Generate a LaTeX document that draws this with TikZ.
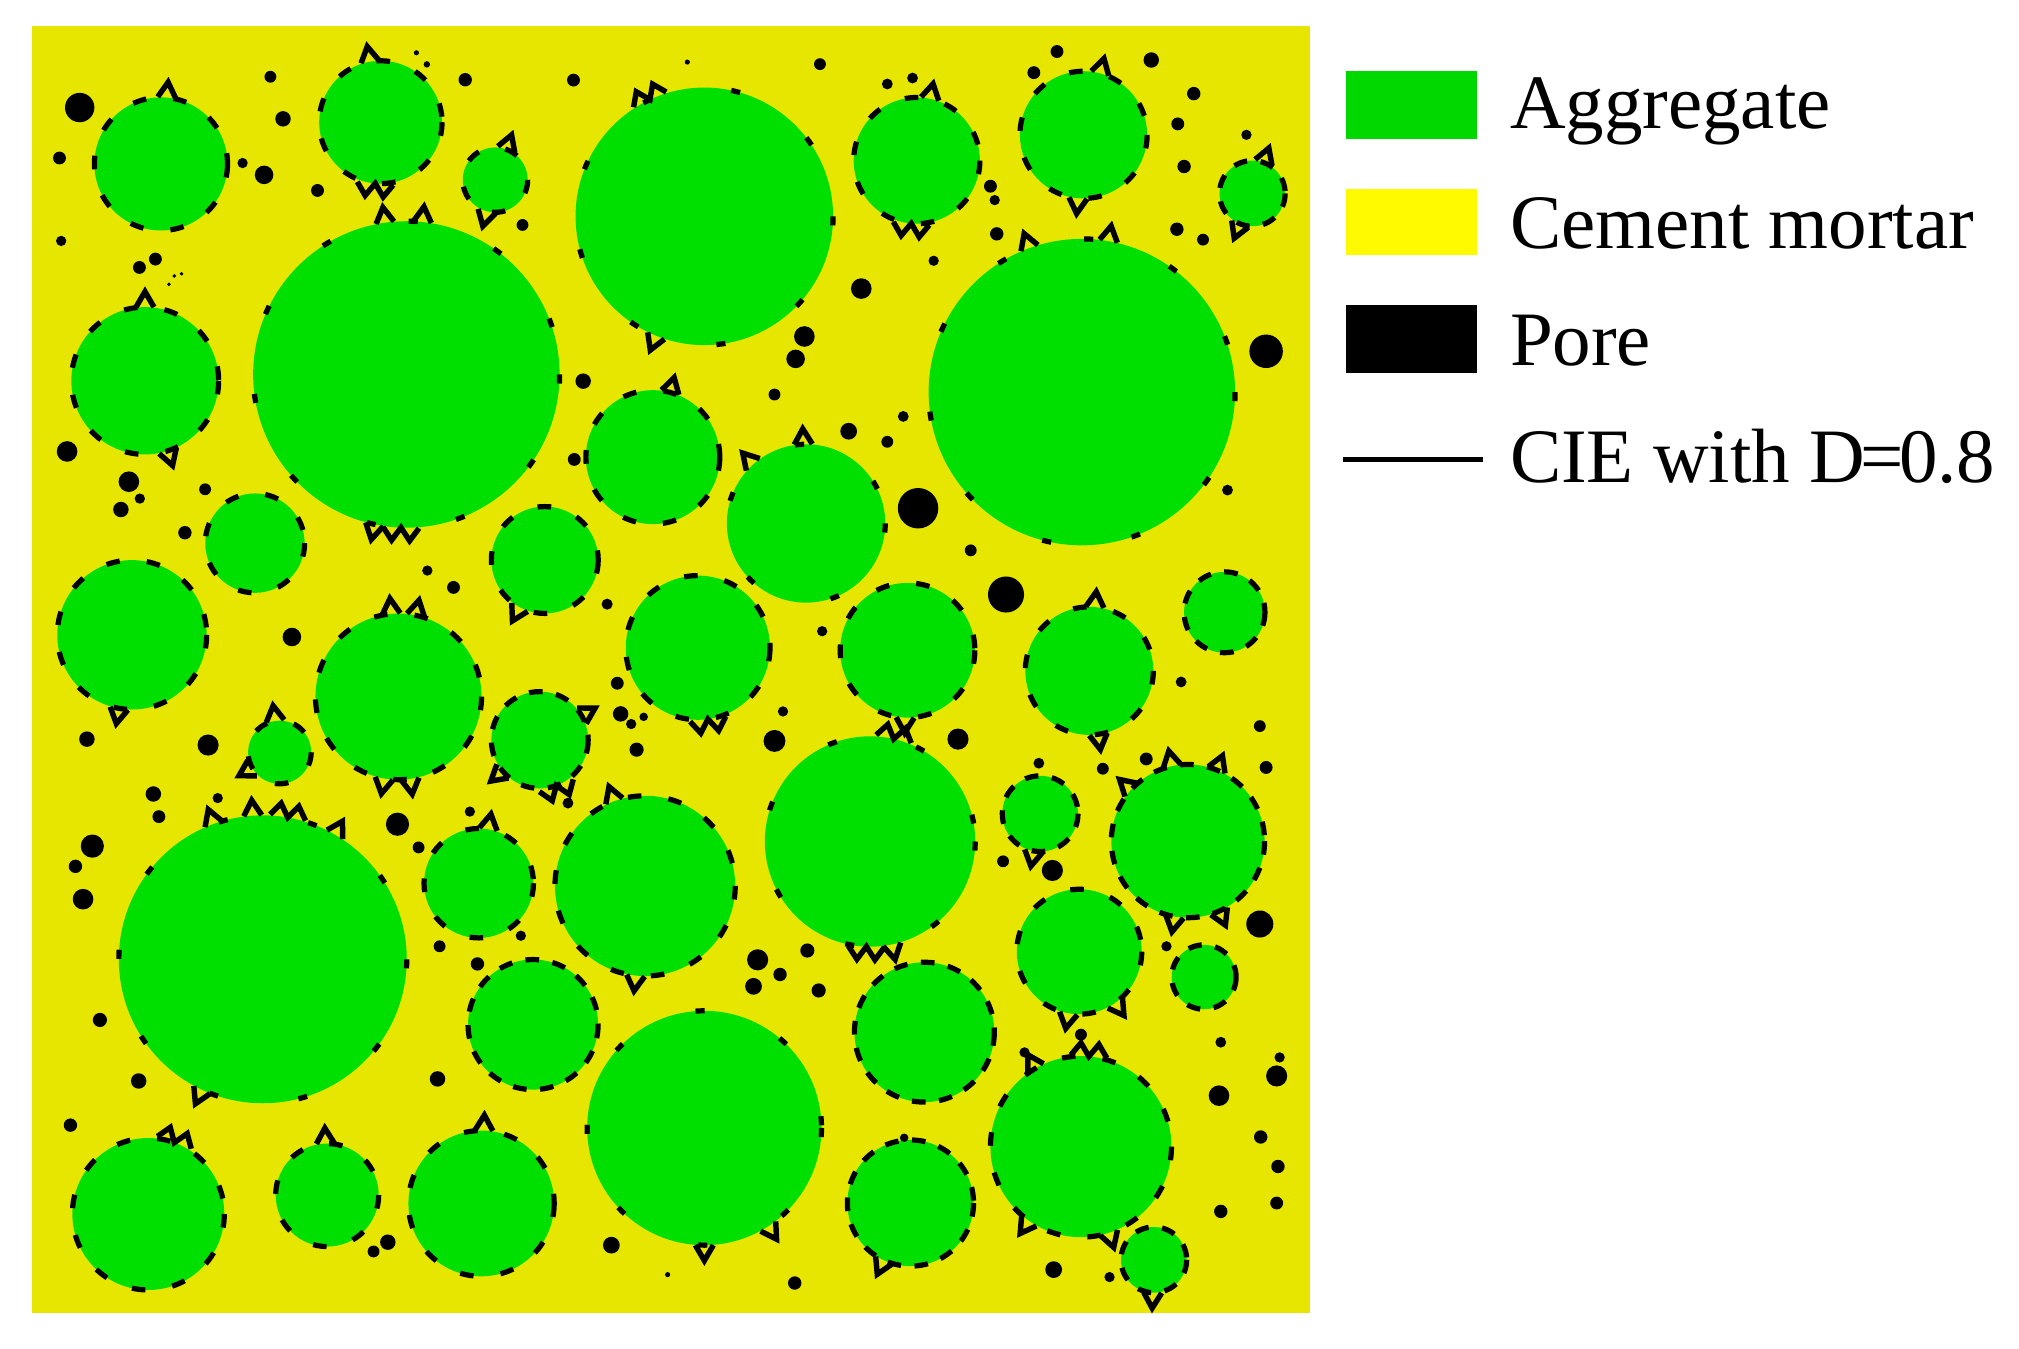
\documentclass[tikz,border=0pt]{standalone}
\usepackage{fontspec}
\setmainfont{Liberation Serif}
\usetikzlibrary{calc}
\definecolor{mortar}{RGB}{230,230,0}
\definecolor{aggr}{RGB}{0,224,0}
\definecolor{legyellow}{RGB}{255,250,0}
\definecolor{leggreen}{RGB}{0,216,0}
\tikzset{
 aggfill/.style={fill=aggr},
 cie/.style={draw=black, line width=1.15pt},
 densedash/.style={dash pattern=on 3pt off 3pt},
 meddash/.style={dash pattern=on 3pt off 6pt},
 sparsedash/.style={dash pattern=on 2pt off 18pt},
 zz/.style={draw=black, line width=1.2pt, line join=miter},
 tooth/.pic={\draw[zz] (0,-7) -- (12,0) -- (0,7);},
 twotooth/.pic={\draw[zz] (0,-14) -- (10,-7) -- (0,0) -- (10,7) -- (0,14);},
 pore/.style={fill=black},
 legtext/.style={anchor=base west, font=\fontsize{17}{20}\selectfont, inner sep=0pt},
}
\newcommand\AggFill[3]{\fill[aggfill] (#1,#2) circle[radius=#3];}
\newcommand\AggLine[4]{\draw[cie,#4] (#1,#2) circle[radius=#3];}
\newcommand\Zig[5]{\pic[rotate=-#4] at ($(#1,#2)+(#4:#3)$) {#5};}
\newcommand\Pore[3]{\fill[pore] (#1,#2) circle[radius=#3];}
\begin{document}
\begin{tikzpicture}[x=0.01cm,y=-0.01cm]
\useasboundingbox (0,0) rectangle (1568,1047);
\fill[white] (0,0) rectangle (1568,1047);
% mortar
\fill[mortar] (24.5,20.5) rectangle (1017,1020);
% aggregates (fill)
\foreach \cx/\cy/\r in {
125/127.3/51.7, 295.6/94.9/47.7, 384.6/139.7/25.2, 547/168/100, 712/124.7/49,
841.5/104.7/49.4, 972.6/150.2/25.5, 315.6/290.8/119, 112.6/295.7/57.2, 840.2/304.5/119,
507/355/52, 626/406.5/61.5, 198/421.8/38.6, 423.1/434.9/41.5, 102.5/493/58,
309.5/541/64.5, 542/503/56, 704.8/505/52.3, 846/521/49.7, 951/475.5/31.4,
217.2/584.2/24.5, 419.2/574.7/37.6, 675.7/653.5/81.7, 807.8/631.9/29.4, 922.6/653.2/59.5,
204.1/745/111.8, 371.8/685.9/42.5, 501/688/70, 838.2/739.1/48.5, 935/758.8/25,
414/795.7/50.5, 717.9/801.6/54.3, 547/876/91, 839.5/890.5/70.3, 115.2/942.8/59,
254.1/928.1/40, 373.8/934.6/56.6, 707.1/934.3/49, 896.1/978.4/25.5}
{\AggFill{\cx}{\cy}{\r}}
% pores
\foreach \px/\py/\pr in {
61.9/83.5/11.4, 210/59.6/4.6, 219.8/92.3/6, 46.2/122.7/5, 188.4/126.6/4, 205.1/135.8/7.2,
246.6/147.9/5, 361.3/61.9/5.2, 445.4/62.2/5, 405.8/174.7/4.6, 47.5/187.1/4,
108.3/207.7/5, 120.7/201.2/5, 135.4/214.3/1.5, 141/212.6/1.5, 131.2/220.8/1.5,
452.9/296/6, 52.1/350.6/8, 100.1/374.1/8, 108.6/387.2/4, 93.9/395.7/6, 159.3/380/4.6,
143.6/413.7/5.2, 446/356.8/5, 331.9/443.1/4, 352.2/456.2/5, 471.5/469.2/4.3, 226.7/494.7/7.2,
323.4/41/2, 331.5/50/2.5,
636.8/49.8/4.6, 533.8/48.2/2, 689.1/65.2/4.2, 708.7/60.6/4.2, 802.9/56.4/5, 820.9/40/5,
894.1/46.6/6, 927.1/72.7/5.2, 914.7/96.2/5, 968/104.7/4, 919.6/129.3/5.2, 769.2/144.6/5,
772.5/155.4/4, 774.1/181.6/5.2, 914/178/5.2, 934.3/186.1/4.6, 725.1/202.5/4, 668.9/224.1/8,
624.7/261.3/8, 617.9/278.7/7.2, 983.3/272.8/13, 601.5/306.4/4.6, 701.5/323.4/4.2,
659.1/334.9/6.5, 689.1/343.1/4.6, 953.3/380.6/4.2, 713/394.7/15.7, 753.9/427.4/4.6,
781.3/461.7/14, 638.5/490.2/4,
67.5/574/6, 161.6/578.6/8.2, 119.1/616.6/6, 123.4/634.2/5, 71.7/657.1/9, 58.6/672.8/5.2,
64.5/698.3/8, 169.1/619.8/4, 308.7/640.1/9, 325.1/658.1/4.6, 364.9/630.3/4, 479.4/530.6/5,
482/554.4/6, 490.2/562.3/4, 499.9/556.7/3.3, 494.4/582.2/5.5, 441.1/623.7/4.2, 77.6/792.1/5.5,
341.4/734.9/4.6, 370.8/748.6/5.2, 404.5/726.7/4, 107.7/839.5/6, 339.8/837.9/6, 54.7/873.8/5.2,
301.2/964.7/6, 290.1/971.9/4.6, 474.8/967/6.5,
608.1/552.5/4, 601.5/575.4/8.5, 744/574/8.2, 917.3/529.6/4.2, 978.4/563.9/4.6, 806.8/592.7/4.2,
856.5/597/4.6, 890.2/589.4/5, 983.3/596/5, 779/668.9/4.6, 817.3/676/8.2, 978.4/717.6/10.5,
905.9/734.9/4, 588.4/745.4/8.2, 627/738.2/5.5, 605.8/756.8/5.2, 585.2/766/6.5, 635.8/769.2/5.5,
839.5/803.5/4.6, 795.7/817.3/4, 948.1/809.4/4.2, 993.8/821.2/4, 991.5/835.6/8.2, 946.7/850.9/8,
979.1/883/5.2, 992.5/905.9/5.2, 991.5/934.3/5, 948.1/940.8/5.2, 818.3/986/6.5, 861.7/991.8/4,
617.2/996.4/5.2, 518.5/989.9/2, 702.2/883.6/3.3}
{\Pore{\px}{\py}{\pr}}
% CIE outlines
\foreach \cx/\cy/\r in {972.6/150.2/25.5, 935/758.8/25, 807.8/631.9/29.4, 717.9/801.6/54.3,
951/475.5/31.4, 419.2/574.7/37.6, 414/795.7/50.5, 707.1/934.3/49, 896.1/978.4/25.5, 922.6/653.2/59.5}
{\AggLine{\cx}{\cy}{\r}{densedash}}
\foreach \cx/\cy/\r in {125/127.3/51.7, 295.6/94.9/47.7, 384.6/139.7/25.2, 712/124.7/49,
841.5/104.7/49.4, 112.6/295.7/57.2, 507/355/52, 198/421.8/38.6, 423.1/434.9/41.5, 102.5/493/58,
309.5/541/64.5, 542/503/56, 704.8/505/52.3, 846/521/49.7, 217.2/584.2/24.5, 371.8/685.9/42.5,
501/688/70, 838.2/739.1/48.5, 839.5/890.5/70.3, 115.2/942.8/59, 254.1/928.1/40, 373.8/934.6/56.6}
{\AggLine{\cx}{\cy}{\r}{meddash}}
\foreach \cx/\cy/\r in {547/168/100, 315.6/290.8/119, 840.2/304.5/119, 626/406.5/61.5,
675.7/653.5/81.7, 204.1/745/111.8, 547/876/91}
{\AggLine{\cx}{\cy}{\r}{sparsedash}}
% CIE zigzags
\foreach \cx/\cy/\r/\a/\k in {
125/127.3/51.7/275/tooth,
295.6/94.9/47.7/260/tooth, 295.6/94.9/47.7/95/twotooth,
315.6/290.8/119/262/tooth, 315.6/290.8/119/276/tooth, 315.6/290.8/119/92/twotooth, 315.6/290.8/119/102/tooth,
384.6/139.7/25.2/290/tooth, 384.6/139.7/25.2/105/tooth,
112.6/295.7/57.2/270/tooth, 112.6/295.7/57.2/72/tooth,
423.1/434.9/41.5/118/tooth,
309.5/541/64.5/265/tooth, 309.5/541/64.5/282/tooth, 309.5/541/64.5/100/tooth, 309.5/541/64.5/82/tooth,
547/168/100/245/twotooth, 547/168/100/112/tooth,
712/124.7/49/282/tooth, 712/124.7/49/95/twotooth,
841.5/104.7/49.4/285/tooth, 841.5/104.7/49.4/95/tooth,
840.2/304.5/119/280/tooth, 840.2/304.5/119/250/tooth,
972.6/150.2/25.5/290/tooth, 972.6/150.2/25.5/112/tooth,
507/355/52/285/tooth,
626/406.5/61.5/268/tooth, 626/406.5/61.5/228/tooth,
846/521/49.7/275/tooth, 846/521/49.7/82/tooth,
102.5/493/58/100/tooth,
217.2/584.2/24.5/262/tooth, 217.2/584.2/24.5/150/tooth,
204.1/745/111.8/280/twotooth, 204.1/745/111.8/266/tooth, 204.1/745/111.8/300/tooth, 204.1/745/111.8/250/tooth, 204.1/745/111.8/115/tooth,
419.2/574.7/37.6/140/tooth, 419.2/574.7/37.6/70/twotooth, 419.2/574.7/37.6/330/tooth,
371.8/685.9/42.5/280/tooth,
501/688/70/250/tooth, 501/688/70/96/tooth,
115.2/942.8/59/290/twotooth,
254.1/928.1/40/268/tooth,
373.8/934.6/56.6/272/tooth,
675.7/653.5/81.7/283/twotooth, 675.7/653.5/81.7/92/twotooth, 675.7/653.5/81.7/78/tooth,
542/503/56/82/twotooth,
704.8/505/52.3/92/tooth,
922.6/653.2/59.5/258/tooth, 922.6/653.2/59.5/292/tooth, 922.6/653.2/59.5/222/tooth, 922.6/653.2/59.5/100/tooth, 922.6/653.2/59.5/66/tooth,
807.8/631.9/29.4/100/tooth,
838.2/739.1/48.5/100/tooth, 838.2/739.1/48.5/55/tooth,
839.5/890.5/70.3/275/twotooth, 839.5/890.5/70.3/240/tooth, 839.5/890.5/70.3/125/tooth, 839.5/890.5/70.3/72/tooth,
547/876/91/90/tooth, 547/876/91/57/tooth,
707.1/934.3/49/115/tooth,
896.1/978.4/25.5/92/tooth}
{\Zig{\cx}{\cy}{\r}{\a}{\k}}
% legend
\fill[leggreen] (1045,55) rectangle (1147,108);
\fill[legyellow] (1045,147) rectangle (1147,198);
\fill[black] (1045,237) rectangle (1147,290);
\draw[line width=1.2pt] (1043,357) -- (1152,357);
\node[legtext] (lagg) at (1172,100) {Aggregate};
\node[legtext] (lcem) at (1172,193) {Cement mortar};
\node[legtext] (lpore) at (1172,284) {Pore};
\node[legtext] (lcie) at (1172,375) {CIE with D\kern-0.06em=\kern-0.06em0.8};
\end{tikzpicture}
\end{document}
